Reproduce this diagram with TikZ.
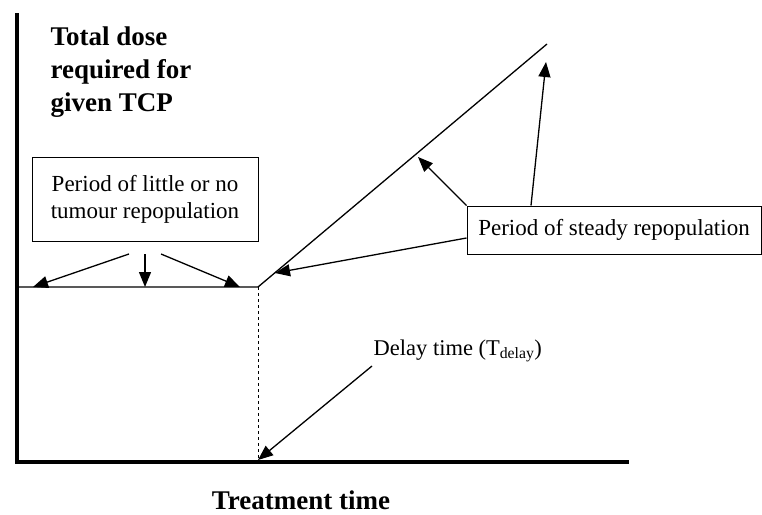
\documentclass[tikz,border=0pt]{standalone}
\usepackage{fontspec}
\setmainfont{Liberation Serif}
\usetikzlibrary{arrows.meta,calc}

\begin{document}
\begin{tikzpicture}[x=1pt, y=-1pt, >={Triangle[length=15pt, width=12pt]}, line width=1.3pt,
    box/.style={draw, line width=1pt, inner sep=0pt, align=center, font=\fontsize{23}{27}\selectfont},
    axis/.style={line width=4.5pt},
    label/.style={font=\fontsize{22.5}{27}\selectfont, inner sep=0pt},
    title/.style={font=\fontsize{27}{33}\selectfont\bfseries, inner sep=0pt, align=left}]
            \useasboundingbox (0,0) rectangle (762,514);

            % Axes
            \coordinate (O) at (17,462);
            \coordinate (Ytop) at (17,13);
            \coordinate (Xend) at (629,462);
            \draw[axis] (Ytop) -- (O) -- (Xend);

            % Axis titles
            \node[title, anchor=north west] (ylabel) at (50,26) {Total dose\\required for\\given TCP};
            \node[title, anchor=base] (xlabel) at (301,509) {Treatment time};

            % Dose curve
            \coordinate (Start) at (19,287);
            \coordinate (Kink) at (258,287);
            \coordinate (End) at (547,44);
            \coordinate (Tdelay) at (258,460);
            \draw (Start) -- (Kink) -- (End);
            \draw[dashed, line width=1pt] (Kink) -- (Tdelay);

            % Boxes
            \node[box, minimum width=226pt, minimum height=84pt] (little) at (145,199) {Period of little or no\\tumour repopulation};
            \node[box, minimum width=294pt, minimum height=48pt] (steady) at (614,230) {Period of steady repopulation};
            \node[label, anchor=base west] (delay) at (373,355) {Delay time (T\textsubscript{delay})};

            % Arrows from the first box to the plateau
            \foreach \s/\t in {129/33, 145/145, 161/240}
            {
                \coordinate (from-\s) at (\s,254);
                \coordinate (to-\t) at (\t,287);
                \draw[->] (from-\s) -- (to-\t);
            }

            % Arrows from the second box to the rising line
            \coordinate (rise-1) at (275,273);
            \coordinate (rise-2) at (418,157);
            \coordinate (rise-3) at (546,62);
            \draw[->] (steady.west |- 0,238) -- (rise-1);
            \draw[->] (steady.north west) -- (rise-2);
            \draw[->] (steady.north west -| 531,0) -- (rise-3);

            % Delay arrow
            \coordinate (delay-from) at (372,366);
            \draw[->] (delay-from) -- (Tdelay);

        \end{tikzpicture}
\end{document}
